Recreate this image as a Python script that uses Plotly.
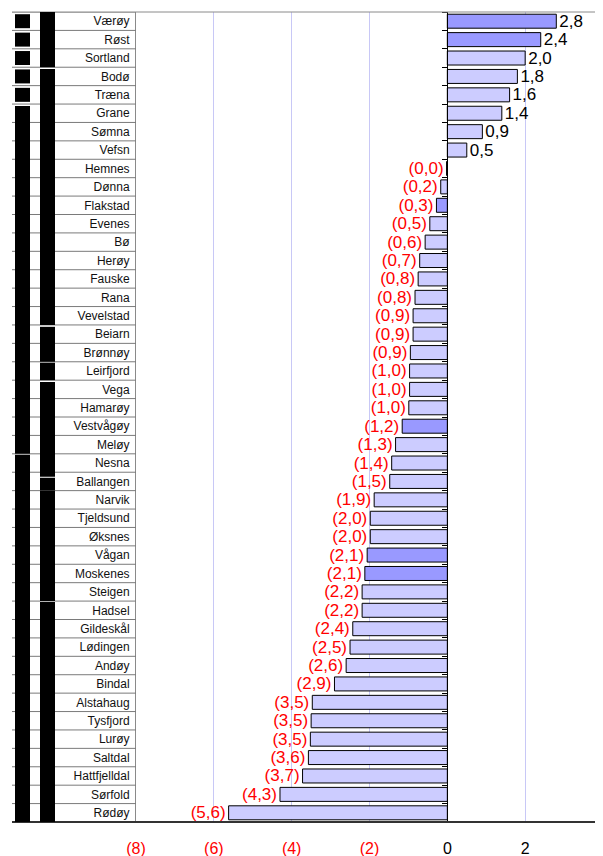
import plotly.graph_objects as go

# ---- data ----
municipalities = ["Værøy", "Røst", "Sortland", "Bodø", "Træna", "Grane", "Sømna", "Vefsn",
                  "Hemnes", "Dønna", "Flakstad", "Evenes", "Bø", "Herøy", "Fauske", "Rana",
                  "Vevelstad", "Beiarn", "Brønnøy", "Leirfjord", "Vega", "Hamarøy", "Vestvågøy",
                  "Meløy", "Nesna", "Ballangen", "Narvik", "Tjeldsund", "Øksnes", "Vågan",
                  "Moskenes", "Steigen", "Hadsel", "Gildeskål", "Lødingen", "Andøy", "Bindal",
                  "Alstahaug", "Tysfjord", "Lurøy", "Saltdal", "Hattfjelldal", "Sørfold", "Rødøy"]
values = [2.8, 2.4, 2.0, 1.8, 1.6, 1.4, 0.9, 0.5,
          -0.02, -0.17, -0.28, -0.45, -0.57, -0.71, -0.75, -0.83,
          -0.88, -0.88, -0.95, -0.97, -0.97, -0.99, -1.16,
          -1.33, -1.43, -1.48, -1.88, -1.98, -1.98, -2.06,
          -2.12, -2.19, -2.19, -2.43, -2.5, -2.6, -2.9,
          -3.47, -3.5, -3.52, -3.57, -3.72, -4.3, -5.62]
lofoten = ["Værøy", "Røst", "Flakstad", "Vestvågøy", "Vågan", "Moskenes"]
x_tickvals = [-8, -6, -4, -2, 0, 2, 4]
x_ticklabels = ["(8)", "(6)", "(4)", "(2)", "0", "2", "4"]

# ---- derived ----
n = len(municipalities)
idx = list(range(n))
colors = ["#9999ff" if m in lofoten else "#ccccff" for m in municipalities]


def fmt(v):
    s = f"{abs(v):.1f}".replace(".", ",")
    return s if v > 0 else f"({s})"


labels = [fmt(v) for v in values]
label_colors = ["black" if v > 0 else "#ff0000" for v in values]
ticktext = [f"<span style='color:#ff0000'>{t}</span>" if t.startswith("(") else t
            for t in x_ticklabels]

# page body has an 8px margin: the figure starts at (8, 8)
W, H = 595, 848
ML, MR, MT, MB = 128, 0, 4, 34
pw = W - ML - MR
OFF = 8


def px2paper(px):
    return (px - OFF - ML) / pw


fig = go.Figure()
fig.add_trace(go.Bar(
    x=values, y=idx, orientation="h",
    marker=dict(color=colors, line=dict(color="black", width=1)),
    width=0.76,
    text=labels, textposition="outside",
    textfont=dict(size=17, color=label_colors, family="Liberation Sans, Arial"),
    constraintext="none", cliponaxis=False,
    hoverinfo="skip", showlegend=False,
))
# helper trace so the zero-crossing category axis is drawn
fig.add_trace(go.Scatter(x=[0], y=[0], yaxis="y2", mode="markers",
                         marker=dict(opacity=0), hoverinfo="skip", showlegend=False))

shapes = []
left = px2paper(12)
# row separators in the label table
for i in range(-1, n):
    shapes.append(dict(type="line", xref="paper", yref="y", x0=left, x1=0,
                       y0=i + 0.5, y1=i + 0.5, line=dict(color="#7a7a7a", width=1)))
# top border
shapes.append(dict(type="line", xref="paper", yref="paper", x0=left, x1=1, y0=1, y1=1,
                   line=dict(color="#8a8a8a", width=1)))
# bottom axis line
shapes.append(dict(type="line", xref="paper", yref="paper", x0=left, x1=1, y0=0, y1=0,
                   line=dict(color="#333333", width=2)))

# redacted columns (black blocks)
c1 = (px2paper(15), px2paper(30))
c2 = (px2paper(40), px2paper(55))
blocks = []
for r in range(5):
    blocks.append((c1, r - 0.38, r + 0.38))
blocks += [(c1, 4.6, 23.5), (c1, 23.55, 43.5)]
blocks += [(c2, -0.5, 2.5), (c2, 2.6, 16.5), (c2, 16.6, 18.5), (c2, 18.55, 19.5),
           (c2, 19.6, 24.75), (c2, 24.8, 25.5), (c2, 25.52, 31.5), (c2, 31.55, 43.5)]
for (xx, y0, y1) in blocks:
    shapes.append(dict(type="rect", xref="paper", yref="y", x0=xx[0], x1=xx[1],
                       y0=y0, y1=y1, fillcolor="black", line=dict(width=0)))

fig.update_layout(
    width=W, height=H,
    margin=dict(l=ML, r=MR, t=MT, b=MB, pad=0),
    paper_bgcolor="white", plot_bgcolor="white",
    font=dict(family="Liberation Sans, Arial", color="black"),
    bargap=0.24,
    xaxis=dict(range=[-8, 4], tickvals=x_tickvals, ticktext=ticktext,
               tickfont=dict(size=16), showgrid=True, gridcolor="#c8c8f6", gridwidth=1,
               zeroline=False, showline=False, ticks="", ticklabelstandoff=15,
               fixedrange=True),
    yaxis=dict(range=[n - 0.5, -0.5], tickvals=idx, ticktext=municipalities,
               tickfont=dict(size=12, color="#111111"), showgrid=False, zeroline=False,
               showline=True, linecolor="#8a8a8a", linewidth=1, ticks="",
               ticklabelstandoff=3),
    yaxis2=dict(overlaying="y", anchor="free", position=8 / 12, side="left",
                range=[n - 0.5, -0.5], tickvals=[i + 0.5 for i in range(-1, n)],
                ticks="outside", ticklen=5, tickcolor="black", showticklabels=False,
                showline=True, linecolor="black", linewidth=1, showgrid=False,
                zeroline=False),
    shapes=shapes,
)

fig.write_html("out.html")
